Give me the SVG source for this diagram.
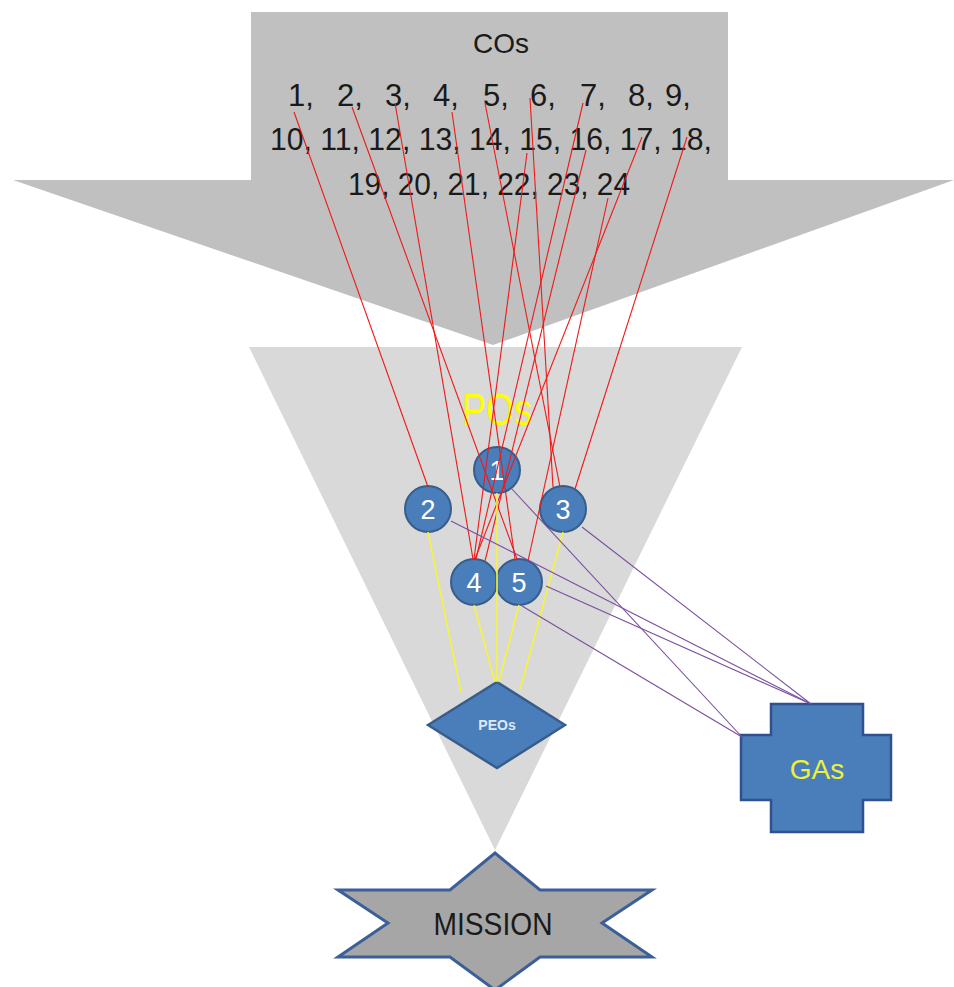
<svg xmlns="http://www.w3.org/2000/svg" width="954" height="987" viewBox="0 0 954 987">
<style>
.t{font-family:"Liberation Sans","Open Sans",Arial,sans-serif}
.num{font-size:31px;fill:#1a1a1a}
.circ{fill:#4a7ebb;stroke:#385d8a;stroke-width:2}
.cn{font-size:27px;fill:#fff;text-anchor:middle}
.red{stroke:#f01818;stroke-width:1.1;fill:none}
.yel{stroke:#f5f53a;stroke-width:1.6;fill:none}
.pur{stroke:#7a4f9e;stroke-width:1.1;fill:none}
</style>
<rect width="954" height="987" fill="#fff"/>
<g id="cos">
<polygon points="251,12 728,12 728,180 954,180 493,345 13,180 251,180" fill="#c0c0c0"/>
<text class="t" x="501" y="53" font-size="28" fill="#1a1a1a" text-anchor="middle">COs</text>
<text class="t num" y="106"><tspan x="288">1,</tspan><tspan x="337">2,</tspan><tspan x="385">3,</tspan><tspan x="433">4,</tspan><tspan x="483">5,</tspan><tspan x="530">6,</tspan><tspan x="580">7,</tspan><tspan x="628">8,</tspan><tspan x="665">9,</tspan></text>
<text class="t num" x="270" y="150" textLength="442" lengthAdjust="spacingAndGlyphs">10, 11, 12, 13, 14, 15, 16, 17, 18,</text>
<text class="t num" x="348" y="195" textLength="282" lengthAdjust="spacingAndGlyphs">19, 20, 21, 22, 23, 24</text>
</g>
<g id="pos">
<polygon points="249,347 742,347 495,850" fill="#d9d9d9"/>
<text class="t" x="497" y="425" font-size="44" fill="#ffff00" text-anchor="middle" textLength="70" lengthAdjust="spacingAndGlyphs">POs</text>
</g>
<g id="mission">
<polygon points="495,853 540,890 652,890 602,923 652,957 540,957 495,990 450,957 338,957 388,923 338,890 450,890" fill="#a6a6a6" stroke="#3c5f9a" stroke-width="3" stroke-linejoin="miter"/>
<text class="t" x="493" y="935" font-size="31" fill="#1a1a1a" text-anchor="middle" textLength="119" lengthAdjust="spacingAndGlyphs">MISSION</text>
</g>
<g id="peos">
<polygon points="428,725 497,682 565,725 497,768" fill="#4a7ebb" stroke="#385d8a" stroke-width="2.5"/>
<text class="t" x="497" y="730" font-size="14" font-weight="bold" fill="#dfe8f3" text-anchor="middle">PEOs</text>
</g>
<g id="gas">
<polygon points="771,704 863,704 863,735 891,735 891,800 863,800 863,832 771,832 771,800 741,800 741,735 771,735" fill="#4a7ebb" stroke="#2f528f" stroke-width="2.5"/>
<text class="t" x="817" y="779" font-size="28" fill="#eef03a" text-anchor="middle">GAs</text>
</g>
<g id="po1"><circle class="circ" cx="497" cy="470" r="23"/><text class="t cn" x="497" y="480">1</text></g>
<g id="po2"><circle class="circ" cx="428" cy="509" r="23"/><text class="t cn" x="428" y="519">2</text></g>
<g id="po3"><circle class="circ" cx="563" cy="509" r="23"/><text class="t cn" x="563" y="519">3</text></g>
<g id="po4"><circle class="circ" cx="474" cy="582" r="23"/><text class="t cn" x="474" y="592">4</text></g>
<g id="po5"><circle class="circ" cx="519" cy="582" r="23"/><text class="t cn" x="519" y="592">5</text></g>
<g id="connectors">
<line class="red" x1="294" y1="112" x2="428" y2="487"/>
<line class="red" x1="352" y1="107" x2="517" y2="559"/>
<line class="red" x1="395" y1="103" x2="473" y2="559"/>
<line class="red" x1="452" y1="112" x2="515" y2="559"/>
<line class="red" x1="485" y1="103" x2="560" y2="487"/>
<line class="red" x1="530" y1="98" x2="553" y2="487"/>
<line class="red" x1="583" y1="103" x2="476" y2="559"/>
<line class="red" x1="527" y1="153" x2="474" y2="559"/>
<line class="red" x1="586" y1="150" x2="485" y2="561"/>
<line class="red" x1="642" y1="137" x2="475" y2="559"/>
<line class="red" x1="608" y1="198" x2="528" y2="561"/>
<line class="red" x1="687" y1="137" x2="575" y2="489"/>
<line class="yel" x1="428" y1="532" x2="461" y2="692"/>
<line class="yel" x1="474" y1="605" x2="495" y2="682"/>
<line class="yel" x1="497" y1="493" x2="497" y2="682"/>
<line class="yel" x1="519" y1="605" x2="499" y2="682"/>
<line class="yel" x1="563" y1="532" x2="520" y2="690"/>
<line class="pur" x1="451" y1="521" x2="811" y2="704"/>
<line class="pur" x1="582" y1="527" x2="811" y2="704"/>
<line class="pur" x1="546" y1="586" x2="811" y2="704"/>
<line class="pur" x1="511" y1="488" x2="742" y2="737"/>
<line class="pur" x1="522" y1="606" x2="742" y2="737"/>
</g>
</svg>
